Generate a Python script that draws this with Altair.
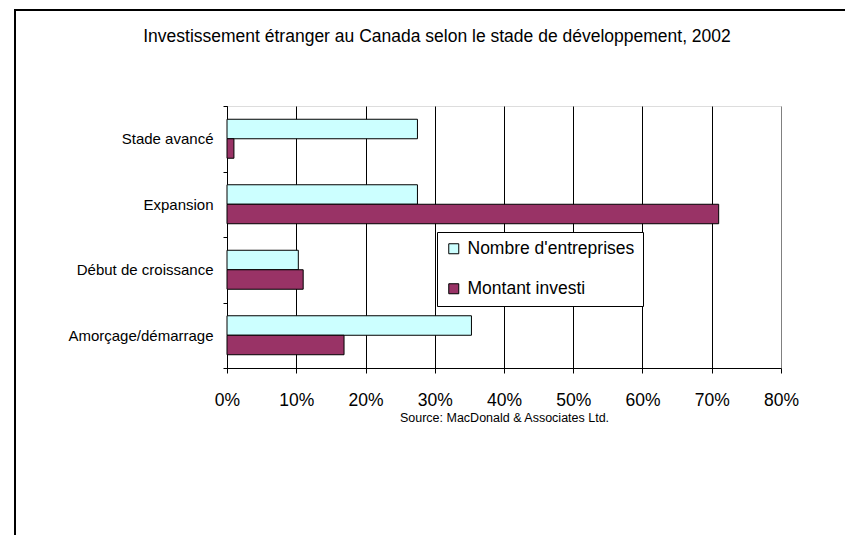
import altair as alt
import pandas as pd

categories = ["Stade avancé", "Expansion", "Début de croissance", "Amorçage/démarrage"]
series = ["Nombre d'entreprises", "Montant investi"]
nombre = [0.275, 0.275, 0.103, 0.353]
montant = [0.010, 0.710, 0.110, 0.169]
x_ticks = [0, 0.1, 0.2, 0.3, 0.4, 0.5, 0.6, 0.7, 0.8]
title_text = "Investissement étranger au Canada selon le stade de développement, 2002"
source_text = "Source:  MacDonald & Associates Ltd."

rows = []
for c, n, m in zip(categories, nombre, montant):
    rows.append({"stade": c, "series": series[0], "value": n})
    rows.append({"stade": c, "series": series[1], "value": m})
df = pd.DataFrame(rows)

FONT = "Liberation Sans, Arial"

bars = alt.Chart(df).mark_bar(stroke="black", strokeWidth=1, opacity=1).encode(
    x=alt.X("value:Q",
            scale=alt.Scale(domain=[0, 0.8], nice=False),
            axis=alt.Axis(values=x_ticks, format=".0%", title=source_text,
                          grid=True,
                          gridColor=alt.condition(alt.datum.value >= 0.8, alt.value("#808080"), alt.value("black")),
                          gridWidth=1, domainColor="black", tickColor="black",
                          tickSize=5, labelFont=FONT, labelFontSize=17.5, labelColor="black",
                          labelFlush=False, labelOverlap=False,
                          labelPadding=18, titleFont=FONT, titleFontSize=12.5,
                          titleFontWeight="normal", titleColor="black", titlePadding=3)),
    y=alt.Y("stade:N", sort=categories,
            scale=alt.Scale(paddingInner=0, paddingOuter=0),
            axis=alt.Axis(title=None, tickBand="extent", domainColor="black", tickColor="black",
                          tickSize=4, labelFont=FONT, labelFontSize=15, labelColor="black",
                          labelPadding=10, grid=False, labelLimit=300)),
    yOffset=alt.YOffset("series:N", sort=series, scale=alt.Scale(paddingOuter=0.68, paddingInner=0)),
    color=alt.Color("series:N", sort=series,
                    scale=alt.Scale(domain=series, range=["#CCFFFF", "#993366"]),
                    legend=alt.Legend(title=None, orient="none", legendX=210, legendY=126,
                                      direction="vertical", fillColor="white", strokeColor="black",
                                      padding=8, rowPadding=21, symbolType="square", symbolSize=100,
                                      symbolStrokeColor="black", symbolStrokeWidth=1,
                                      labelFont=FONT, labelFontSize=17.5, labelOffset=5,
                                      labelLimit=300, labelColor="black")),
)

one = pd.DataFrame({"a": [0]})
frame = alt.Chart(one).mark_rect(fill=None, stroke="black", strokeWidth=2, clip=False).encode(
    x=alt.value(-212), x2=alt.value(700), y=alt.value(-96), y2=alt.value(600)
)
title = alt.Chart(one).mark_text(text=title_text, font=FONT, fontSize=17.5, color="black",
                                 align="center", baseline="middle").encode(
    x=alt.value(210), y=alt.value(-69)
)

chart = alt.layer(frame, bars, title).properties(
    width=554, height=262,
    autosize=alt.AutoSizeParams(type="none"),
    padding={"left": 219, "top": 98, "right": 64, "bottom": 167},
).configure_view(fill="#C0C0C0", stroke="#808080", strokeWidth=1).configure(background="white")

chart.save("out.html", embed_options={"renderer": "svg", "actions": False})
